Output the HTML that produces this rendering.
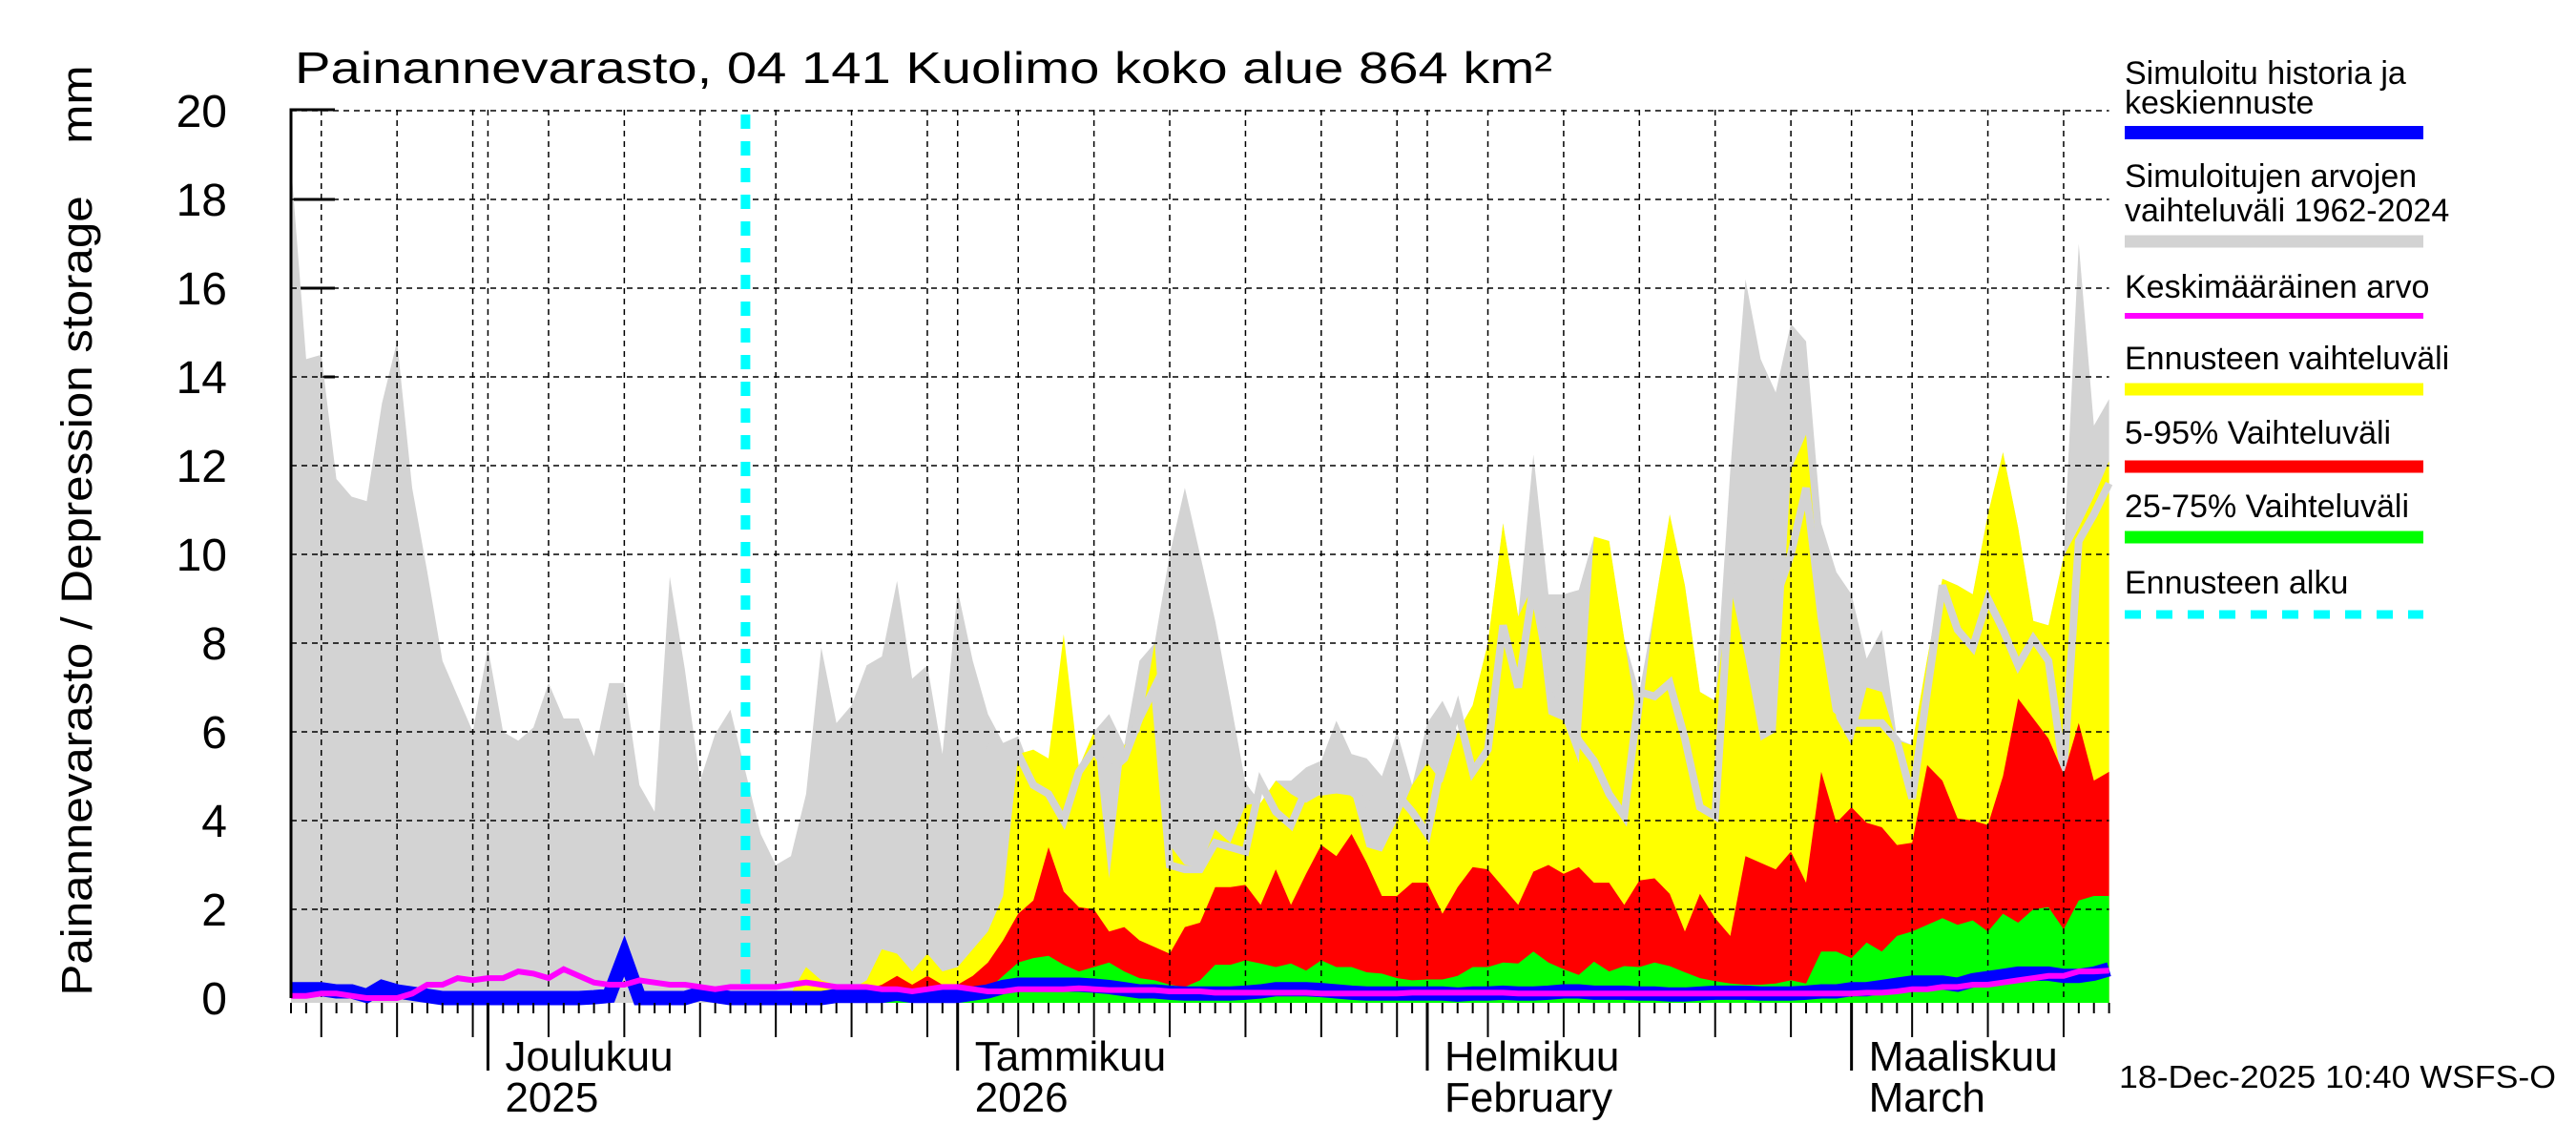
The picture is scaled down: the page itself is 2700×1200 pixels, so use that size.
<!DOCTYPE html>
<html><head><meta charset="utf-8"><style>
html,body{margin:0;padding:0;background:#fff;}
svg{display:block;font-family:"Liberation Sans",Arial,sans-serif;}
</style></head><body>
<svg id="chart" width="2700" height="1200" viewBox="0 0 2700 1200" xmlns="http://www.w3.org/2000/svg">
<rect x="0" y="0" width="2700" height="1200" fill="#fff"/>
<text x="309" y="87" font-size="46" textLength="1318" lengthAdjust="spacingAndGlyphs">Painannevarasto, 04 141 Kuolimo koko alue 864 km²</text>
<text transform="translate(96,556) rotate(-90)" text-anchor="middle" font-size="45" textLength="975" lengthAdjust="spacingAndGlyphs" style="white-space:pre" xml:space="preserve">Painannevarasto / Depression storage    mm</text>
<g id="ticks-under"></g>
<g id="fills"></g>
<g id="grid"></g>
<g id="lines"></g>
<g id="axes"></g>
<g id="legend"></g>
<text x="2221" y="1140" font-size="33" textLength="458" lengthAdjust="spacingAndGlyphs">18-Dec-2025 10:40 WSFS-O</text>
</svg>
<script>
// Day 0 = 18 Nov 2025, day 120 = 18 Mar 2026
const histMax = [18.8,14.4,14.5,11.7,11.3,11.2,13.4,14.8,11.5,9.6,7.6,6.8,6.0,7.9,6.0,5.8,6.1,7.1,6.3,6.3,5.45,7.1,7.1,4.8,4.2,9.5,7.4,4.9,5.95,6.5,5.1,3.7,3.0,3.2,4.6,7.9,6.2,6.6,7.5,7.7,9.4,7.2,7.5,5.5,
9.2,7.6,6.4,5.75,5.9,5.0,5.3,5.8,5.2,6.0,6.4,5.7,7.6,8.0,10.0,11.5,10.0,8.5,6.7,4.85,4.4,4.9,4.9,5.2,5.35,6.25,5.5,5.4,5.0,6.0,4.8,6.2,6.7,6.0,6.6,8.0,10.7,8.6,12.25,9.1,9.1,9.2,10.4,10.3,8.1,6.9,8.8,10.9,9.3,6.9,6.7,11.9,16.2,14.4,13.65,15.2,14.8,10.7,9.6,9.1,7.65,8.3,5.85,5.7,7.65,9.45,9.3,9.1,10.9,12.3,10.6,8.5,8.4,9.95,17.0,12.9,13.5];
const fcStart = 30;
const fcMax = [0,0,0,0.1,0.7,0.4,0.3,0.2,0.4,1.1,
1.0,0.6,1.0,0.6,0.7,1.1,1.5,2.3,5.5,5.6,
5.4,8.2,5.2,6.0,2.7,5.7,6.0,8.0,3.45,3.0,
2.96,3.8,3.5,4.35,4.4,4.9,4.6,4.4,4.6,4.7,
4.65,3.4,3.3,4.0,4.8,5.3,4.85,6.0,6.6,8.0,
10.7,8.6,9.3,6.4,6.25,5.3,10.4,10.3,8.1,6.0,
8.8,10.9,9.3,6.9,6.7,9.3,7.65,5.8,6.0,11.9,
12.7,8.9,6.3,5.7,7.0,6.9,5.8,5.7,7.65,9.45,
9.3,9.1,10.9,12.3,10.6,8.5,8.4,9.95,10.6,11.3,12.1];
const fc95 = [0,0,0,0,0.1,0.1,0.1,0.1,0.2,0.3,
0.5,0.3,0.5,0.3,0.3,0.5,0.8,1.3,1.9,2.2,
3.4,2.4,2.05,2.0,1.5,1.6,1.3,1.15,1.0,1.6,
1.7,2.5,2.5,2.55,2.1,2.9,2.1,2.8,3.45,3.2,
3.7,3.05,2.3,2.3,2.6,2.6,1.9,2.5,2.95,2.9,
2.5,2.1,2.85,3.0,2.8,2.95,2.6,2.6,2.1,2.65,
2.7,2.35,1.5,2.35,1.8,1.4,3.2,3.05,2.9,3.3,
2.6,5.1,3.95,4.3,3.95,3.85,3.45,3.5,5.25,4.9,
4.05,4.0,3.9,5.0,6.75,6.3,5.85,5.05,6.2,4.9,5.1];
const fc75 = [0,0,0,0,0.05,0.05,0.05,0.05,0.1,0.1,
0.15,0.1,0.15,0.1,0.15,0.15,0.2,0.5,0.8,0.9,
0.95,0.75,0.6,0.7,0.8,0.6,0.45,0.4,0.3,0.25,
0.4,0.75,0.75,0.85,0.78,0.7,0.78,0.62,0.85,0.7,
0.7,0.58,0.55,0.45,0.4,0.42,0.42,0.5,0.7,0.7,
0.8,0.78,1.05,0.8,0.65,0.52,0.82,0.6,0.72,0.7,
0.8,0.72,0.58,0.45,0.38,0.33,0.3,0.3,0.33,0.4,
0.33,1.05,1.05,0.9,1.25,1.05,1.4,1.5,1.65,1.8,
1.65,1.75,1.5,1.9,1.7,2.0,2.05,1.55,2.2,2.3,2.3];
const medStart = 46;
const medLine = [5.7,5.5,5.5,4.8,
4.6,4.0,5.1,5.6,5.1,5.4,6.3,7.0,3.0,2.9,
2.9,3.5,3.4,3.3,4.85,4.2,3.9,4.7,4.65,4.7,
4.65,4.4,3.9,4.6,4.2,3.7,5.4,6.5,5.1,5.6,
8.4,7.0,9.3,7.4,6.5,5.8,5.35,4.6,4.1,6.9,
6.8,7.1,5.85,4.3,4.1,9.45,10,10,9,10,
11.5,8.6,6.5,6.2,6.2,6.2,5.8,4.5,6.9,9.3,
8.3,7.9,9.0,8.3,7.5,8.1,7.6,5.1,10.3,10.9,11.6];
const blueSim = [0.2,0.2,0.2,0.15,0.15,0.05,0.25,0.15,0.1,0.05,0,0,0,0,0,0,0,0,0,0,0.02,0.05,0.95,0,0,0,0,0.1,0.05,0,
0,0,0,0,0,0,0.05,0.05,0.05,0.05,0.1,0.05,0.05,0.05,
0.05,0.1,0.15,0.25,0.3,0.3,0.3,0.3,0.3,0.28,0.25,0.2,0.15,0.15,0.12,0.1,0.1,
0.1,0.1,0.12,0.15,0.2,0.2,0.2,0.18,0.15,0.12,0.1,0.1,0.1,0.1,0.1,0.1,0.08,0.1,0.1,0.12,0.1,0.1,0.12,0.15,0.15,0.12,0.12,0.12,0.1,0.1,0.08,0.08,0.1,0.12,0.12,0.12,0.1,0.1,0.1,0.12,
0.15,0.15,0.2,0.2,0.25,0.3,0.35,0.35,0.35,0.3,0.4,0.45,0.5,0.55,0.55,0.55,0.5,0.5,0.55,0.65];
const meanLine = [0.05,0.05,0.1,0.1,0.05,0,0,0,0.1,0.3,0.3,0.45,0.4,0.45,0.45,0.6,0.55,0.45,0.65,0.5,0.35,0.3,0.3,0.4,0.35,0.3,0.3,0.25,0.2,0.25,
0.25,0.25,0.25,0.3,0.35,0.3,0.25,0.25,0.25,0.2,0.2,0.15,0.2,0.25,0.25,0.2,0.15,0.15,0.2,0.2,0.2,0.2,0.22,0.2,0.18,0.18,0.18,0.18,0.15,0.15,0.15,
0.12,0.12,0.12,0.12,0.12,0.12,0.12,0.1,0.1,0.1,0.1,0.1,0.1,0.12,0.12,0.12,0.12,0.12,0.12,0.12,0.1,0.1,0.1,0.1,0.1,0.1,0.1,0.1,0.1,0.1,0.1,0.1,0.1,0.1,0.1,0.1,0.1,0.1,0.1,0.1,
0.1,0.1,0.1,0.12,0.12,0.15,0.2,0.2,0.25,0.25,0.3,0.3,0.35,0.4,0.45,0.5,0.5,0.6,0.6,0.62];
const yTicks = [0,2,4,6,8,10,12,14,16,18,20];
const monthLabels = [["Joulukuu","2025"],["Tammikuu","2026"],["Helmikuu","February"],["Maaliskuu","March"]];
const forecastDay = 30;

const NS="http://www.w3.org/2000/svg";
const X0=305, DX=15.88, Y0=1046, DY=46.5;
function X(d){return X0+d*DX;}
function Y(v){return Y0-v*DY;}
function mk(tag,attrs,parent){const e=document.createElementNS(NS,tag);for(const k in attrs)e.setAttribute(k,attrs[k]);parent.appendChild(e);return e;}
const fills=document.getElementById('fills'),grid=document.getElementById('grid'),lines=document.getElementById('lines'),axes=document.getElementById('axes'),under=document.getElementById('ticks-under'),legend=document.getElementById('legend');
function areaPts(arr,start){
  let p=[];arr.forEach((v,i)=>p.push(X(start+i).toFixed(1)+','+Y(v).toFixed(1)));
  p.push(X(start+arr.length-1).toFixed(1)+','+(Y0+5));p.push(X(start).toFixed(1)+','+(Y0+5));
  return p.join(' ');
}
function linePts(arr,start){return arr.map((v,i)=>X(start+i).toFixed(1)+','+Y(v).toFixed(1)).join(' ');}

yTicks.forEach(t=>{if(t>0&&t<20){const l=mk('line',{x1:X0,x2:X0+46,y1:Y(t),y2:Y(t),stroke:'#000','stroke-width':3},under);

}});

let e;
e=mk('polygon',{points:areaPts(histMax,0),fill:'#d3d3d3'},fills);


e=mk('polygon',{points:areaPts(fcMax,fcStart),fill:'#ffff00'},fills);


e=mk('polyline',{points:linePts(medLine,medStart),fill:'none',stroke:'#d3d3d3','stroke-width':8,'stroke-linejoin':'miter'},fills);


e=mk('polygon',{points:areaPts(fc95,fcStart),fill:'#ff0000'},fills);


e=mk('polygon',{points:areaPts(fc75,fcStart),fill:'#00ff00'},fills);



yTicks.forEach(t=>{if(t>0){const l=mk('line',{x1:X0,x2:X(120),y1:Y(t),y2:Y(t),stroke:'#000','stroke-width':1.5,'stroke-dasharray':'6 5'},grid);

}});
const start=new Date(2025,10,18);
let monthIdx=0;
for(let d=0;d<=120;d++){
  const dt=new Date(start.getFullYear(),start.getMonth(),start.getDate()+d);
  const dom=dt.getDate();const x=X(d);
  const isGrid=[1,5,10,15,20,25,30].includes(dom);
  if(isGrid&&d>0&&d<120){const l=mk('line',{x1:x,x2:x,y1:115,y2:Y0,stroke:'#000','stroke-width':1.5,'stroke-dasharray':'6 5'},grid);
  
  }
  let len=dom===1?71:(dom%5===0?36:11);
  const t=mk('line',{x1:x,x2:x,y1:Y0+5,y2:Y0+5+len,stroke:'#000','stroke-width':dom===1?3:2},axes);
  
  
  if(dom===1&&monthIdx<monthLabels.length){
    const m=monthLabels[monthIdx++];
    const t1=mk('text',{x:x+18,y:1122,'font-size':44},axes);t1.textContent=m[0];
    
    
    const t2=mk('text',{x:x+18,y:1165,'font-size':44},axes);t2.textContent=m[1];
    
    
  }
}

e=mk('polyline',{points:linePts(blueSim,0),fill:'none',stroke:'#0000ff','stroke-width':15,'stroke-linejoin':'miter'},lines);


e=mk('polyline',{points:linePts(meanLine,0),fill:'none',stroke:'#ff00ff','stroke-width':6},lines);


e=mk('line',{x1:X(forecastDay),x2:X(forecastDay),y1:120,y2:Y0-5,stroke:'#00ffff','stroke-width':10,'stroke-dasharray':'15 13'},lines);



e=mk('path',{d:`M${X0} 1046 L${X0} 115 L${X0+46} 115`,fill:'none',stroke:'#000','stroke-width':3},axes);


yTicks.forEach(t=>{const tx=mk('text',{x:238,y:Y(t)+17,'font-size':48,'text-anchor':'end'},axes);tx.textContent=String(t);

});

const legItems=[
 [["Simuloitu historia ja","keskiennuste"],[76,107],139,'#0000ff',14,null,'legend-simulated-history'],
 [["Simuloitujen arvojen","vaihteluväli 1962-2024"],[184,220],253,'#d3d3d3',13,null,'legend-simulated-range'],
 [["Keskimääräinen arvo"],[300],331,'#ff00ff',6,null,'legend-mean'],
 [["Ennusteen vaihteluväli"],[375],408,'#ffff00',13,null,'legend-forecast-range'],
 [["5-95% Vaihteluväli"],[453],489,'#ff0000',13,null,'legend-5-95'],
 [["25-75% Vaihteluväli"],[530],563,'#00ff00',13,null,'legend-25-75'],
 [["Ennusteen alku"],[610],644,'#00ffff',9,'17 16','legend-forecast-start']];
legItems.forEach(it=>{
  const g=mk('g',{},legend);
  
  
  it[0].forEach((s,i)=>{const t=mk('text',{x:2227,y:it[1][i]+12,'font-size':34},g);t.textContent=s;});
  const a={x1:2227,x2:2540,y1:it[2],y2:it[2],stroke:it[3],'stroke-width':it[4]};
  if(it[5])a['stroke-dasharray']=it[5];
  mk('line',a,g);
});
</script>
</body></html>
